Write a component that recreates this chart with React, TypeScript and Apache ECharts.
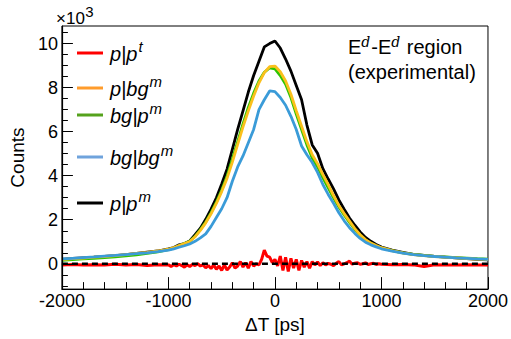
import React, { useEffect, useRef } from "react";
import * as echarts from "echarts";

// ---------- data (counts in units of 10^3) ----------
const deltaT = [
  -2000, -1900, -1800, -1700, -1600, -1500, -1400, -1300, -1200, -1100,
  -1000, -950, -900, -850, -800, -750, -700, -650, -600, -550, -500, -450, -400, -350, -300, -250, -200, -150, -100, -50,
  0, 50, 100, 150, 200, 250, 300, 350, 400, 450, 500, 550, 600, 650, 700, 750, 800, 850, 900, 950, 1000,
  1100, 1200, 1300, 1400, 1500, 1600, 1700, 1800, 1900, 2000,
];

// p|p^m (black)
const ppM = [
  0.2, 0.24, 0.27, 0.3, 0.34, 0.37, 0.42, 0.47, 0.53, 0.58,
  0.68, 0.74, 0.86, 0.92, 1.04, 1.32, 1.62, 2.02, 2.48, 3.0, 3.62, 4.3, 5.2, 6.1, 6.95, 7.8, 8.55, 9.2, 9.85, 10.0,
  10.12, 9.8, 9.3, 8.75, 8.1, 7.45, 6.3, 5.4, 5.02, 4.32, 3.85, 3.4, 2.9, 2.48, 2.08, 1.75, 1.45, 1.2, 1.02, 0.88, 0.76,
  0.62, 0.52, 0.43, 0.38, 0.34, 0.3, 0.27, 0.23, 0.2, 0.18,
];

// p|bg^m (orange / yellow)
const pbgM = [
  0.19, 0.23, 0.26, 0.3, 0.33, 0.37, 0.42, 0.47, 0.52, 0.58,
  0.66, 0.73, 0.83, 0.92, 1.01, 1.23, 1.52, 1.86, 2.27, 2.74, 3.28, 3.88, 4.62, 5.42, 6.22, 6.95, 7.62, 8.22, 8.68, 8.95,
  8.98, 8.72, 8.3, 7.7, 6.95, 6.25, 5.55, 4.95, 4.55, 4.05, 3.6, 3.1, 2.65, 2.28, 1.94, 1.6, 1.32, 1.1, 0.94, 0.83, 0.73,
  0.6, 0.5, 0.42, 0.37, 0.33, 0.3, 0.27, 0.24, 0.21, 0.19,
];

// bg|p^m (green)
const bgpM = [
  0.16, 0.19, 0.22, 0.25, 0.28, 0.31, 0.36, 0.41, 0.47, 0.54,
  0.64, 0.71, 0.82, 0.92, 1.02, 1.25, 1.55, 1.9, 2.32, 2.8, 3.35, 3.98, 4.75, 5.55, 6.35, 7.1, 7.75, 8.3, 8.7, 8.9,
  8.85, 8.55, 8.15, 7.55, 6.8, 6.1, 5.4, 4.8, 4.4, 3.9, 3.45, 3.0, 2.58, 2.22, 1.88, 1.56, 1.3, 1.08, 0.93, 0.82, 0.72,
  0.6, 0.5, 0.43, 0.38, 0.34, 0.31, 0.28, 0.26, 0.23, 0.21,
];

// bg|bg^m (blue)
const bgbgM = [
  0.22, 0.25, 0.28, 0.31, 0.35, 0.38, 0.42, 0.46, 0.5, 0.55,
  0.62, 0.68, 0.75, 0.82, 0.9, 1.02, 1.18, 1.36, 1.7, 2.1, 2.5, 3.0, 3.75, 4.4, 4.9, 5.5, 6.1, 7.0, 7.45, 7.85,
  7.82, 7.55, 7.2, 6.7, 6.1, 5.35, 4.95, 4.6, 4.15, 3.6, 3.15, 2.75, 2.32, 1.95, 1.64, 1.38, 1.15, 0.98, 0.86, 0.77, 0.68,
  0.57, 0.48, 0.42, 0.37, 0.33, 0.3, 0.27, 0.25, 0.22, 0.2,
];

// p|p^t (red) – finer binning
const deltaTRed = [
  -2000, -1900, -1800, -1700, -1600, -1500, -1400, -1300, -1200, -1100,
  -1000, -975, -950, -925, -900, -875, -850, -825, -800, -775, -750, -725, -700, -675, -650, -625, -600, -575, -550, -525,
  -500, -475, -450, -425, -400, -375, -350, -325, -300, -275, -250, -225, -200, -175, -150, -125, -100, -75, -50, -25,
  0, 25, 50, 75, 100, 125, 150, 175, 200, 225, 250, 275, 300, 325, 350, 375, 400, 425, 450, 475,
  500, 525, 550, 575, 600, 625, 650, 675, 700, 725, 750, 775, 800, 825, 850, 875, 900, 925, 950, 975, 1000,
  1100, 1200, 1300, 1400, 1500, 1600, 1700, 1800, 1900, 2000,
];
const ppT = [
  -0.05, -0.03, -0.06, -0.04, -0.05, -0.02, -0.06, -0.03, -0.08, -0.04,
  -0.05, -0.12, -0.04, -0.1, -0.02, -0.08, -0.15, -0.05, -0.12, -0.03, -0.08, 0.0, -0.1, -0.05, -0.18, -0.08, -0.22, -0.05, -0.25, -0.1,
  -0.3, -0.05, -0.28, -0.15, 0.05, -0.2, -0.1, 0.1, -0.15, 0.05, -0.2, 0.1, -0.1, 0.0, -0.05, 0.2, 0.62, 0.35, 0.3, 0.05,
  0.2, -0.1, 0.35, -0.3, 0.3, -0.35, 0.25, -0.2, 0.2, -0.3, 0.15, -0.15, 0.1, -0.2, 0.1, -0.05, 0.08, -0.08, 0.05, -0.05,
  0.02, -0.02, -0.08, 0.02, 0.1, -0.05, 0.0, 0.05, 0.12, -0.02, 0.03, 0.05, -0.02, 0.0, 0.04, -0.03, 0.0, 0.02, -0.03, 0.0, -0.02,
  -0.04, -0.03, -0.05, -0.12, -0.04, -0.05, -0.06, -0.04, -0.05, -0.05,
];

const zeroLineX = [-2000, 2000];
const zeroLineY = [0, 0];

const xRange = [-2000, 2000];
const yRange = [-1.15, 10.8];
const yMajorTicks = [0, 2, 4, 6, 8, 10];
const yMinorTicks = [-1, -0.5, 0.5, 1, 1.5, 2.5, 3, 3.5, 4.5, 5, 5.5, 6.5, 7, 7.5, 8.5, 9, 9.5, 10.5];

const legendBase = ["p|p", "p|bg", "bg|p", "bg|bg", "p|p"];
const legendSup = ["t", "m", "m", "m", "m"];

const FONT = '"Liberation Sans", Arial, Helvetica, sans-serif';

function measure(text: string, font: string): number {
  const c = document.createElement("canvas").getContext("2d");
  if (!c) return text.length * 10;
  c.font = font;
  return c.measureText(text).width;
}

export default function App() {
  const ref = useRef<HTMLDivElement>(null);

  useEffect(() => {
    if (!ref.current) return;
    const chart = echarts.init(ref.current, undefined, { renderer: "svg" });

    const pairs = (xs: number[], ys: number[]) => xs.map((x, i) => [x, ys[i]]);

    const legendColors = ["#ff0000", "#ff9c2c", "#55a21d", "#6fa3dc", "#000000"];
    const legendRowsY = [53, 88, 115, 157, 203];

    const graphic: any[] = [];
    legendBase.forEach((base, i) => {
      const L = legendRowsY[i];
      graphic.push({
        type: "line",
        shape: { x1: 77, y1: L, x2: 103, y2: L },
        style: { stroke: legendColors[i], lineWidth: 3 },
      });
      const bf = `italic 20px ${FONT}`;
      graphic.push({
        type: "text",
        x: 110,
        y: L + 1,
        style: { text: base, font: bf, fill: "#000", align: "left", verticalAlign: "middle", textAlign: "left", textVerticalAlign: "middle" },
      });
      const w = measure(base, bf);
      graphic.push({
        type: "text",
        x: 110 + w + 1,
        y: L - 7,
        style: { text: legendSup[i], font: `italic 15px ${FONT}`, fill: "#000", align: "left", verticalAlign: "middle", textAlign: "left", textVerticalAlign: "middle" },
      });
    });

    // x10^3
    const f17 = `17px ${FONT}`;
    const w10 = measure("\u00d710", f17);
    graphic.push({
      type: "text", x: 56, y: 18,
      style: { text: "\u00d710", font: f17, fill: "#000", align: "left", verticalAlign: "middle", textAlign: "left", textVerticalAlign: "middle" },
    });
    graphic.push({
      type: "text", x: 56 + w10 + 0.5, y: 11,
      style: { text: "3", font: `15px ${FONT}`, fill: "#000", align: "left", verticalAlign: "middle", textAlign: "left", textVerticalAlign: "middle" },
    });

    // E^d-E^d region / (experimental)
    const f20 = `20px ${FONT}`;
    const fd = `italic 14px "DejaVu Serif", "Liberation Serif", serif`;
    let cx = 348;
    const pieces: [string, boolean][] = [["E", false], ["d", true], ["-E", false], ["d", true], [" region", false]];
    pieces.forEach(([t, sup]) => {
      const font = sup ? fd : f20;
      graphic.push({
        type: "text", x: cx, y: sup ? 42 : 47,
        style: { text: t, font, fill: "#000", align: "left", verticalAlign: "middle", textAlign: "left", textVerticalAlign: "middle" },
      });
      cx += measure(t, font) + (sup ? 1 : 0);
    });
    graphic.push({
      type: "text", x: 348, y: 72,
      style: { text: "(experimental)", font: f20, fill: "#000", align: "left", verticalAlign: "middle", textAlign: "left", textVerticalAlign: "middle" },
    });

    const lineSeries = (name: string, data: any[], color: string, width: number, extra: any = {}) => ({
      name,
      type: "line",
      data,
      showSymbol: false,
      symbol: "none",
      xAxisIndex: 0,
      yAxisIndex: 0,
      lineStyle: { color, width, ...extra },
      itemStyle: { color },
      silent: true,
      z: 2,
    });

    chart.setOption({
      animation: false,
      backgroundColor: "#ffffff",
      textStyle: { fontFamily: FONT },
      grid: { left: 57, right: 20, top: 26, bottom: 43, show: true, borderColor: "#000", borderWidth: 1, backgroundColor: "transparent" },
      xAxis: {
        type: "value",
        min: xRange[0],
        max: xRange[1],
        interval: 1000,
        name: "\u0394T [ps]",
        nameLocation: "middle",
        nameGap: 19,
        nameTextStyle: { fontSize: 19, color: "#000", fontFamily: FONT },
        axisLine: { show: true, onZero: false, lineStyle: { color: "#000", width: 1.2 } },
        axisTick: { show: true, inside: true, length: 12, lineStyle: { color: "#000", width: 1 } },
        minorTick: { show: true, splitNumber: 5, length: 7, lineStyle: { color: "#000", width: 1 } },
        axisLabel: { fontSize: 18, color: "#000", margin: 3, fontFamily: FONT, formatter: (v: number) => String(v) },
        splitLine: { show: false },
        z: 5,
      },
      yAxis: [
        {
          type: "value",
          min: yRange[0],
          max: yRange[1],
          name: "Counts",
          nameLocation: "middle",
          nameGap: 29,
          nameRotate: 90,
          nameTextStyle: { fontSize: 19, color: "#000", fontFamily: FONT },
          axisLine: { show: true, onZero: false, lineStyle: { color: "#000", width: 1.2 } },
          axisTick: { show: true, inside: true, length: 11, customValues: yMajorTicks, lineStyle: { color: "#000", width: 1 } },
          axisLabel: { fontSize: 18, color: "#000", margin: 4, fontFamily: FONT, customValues: yMajorTicks, formatter: (v: number) => String(v) },
          splitLine: { show: false },
          z: 5,
        },
        {
          type: "value",
          min: yRange[0],
          max: yRange[1],
          position: "left",
          axisLine: { show: false, onZero: false },
          axisTick: { show: true, inside: true, length: 6, customValues: yMinorTicks, lineStyle: { color: "#000", width: 1 } },
          axisLabel: { show: false, customValues: yMinorTicks },
          splitLine: { show: false },
          z: 5,
        },
      ],
      series: [
        lineSeries("p|p^m", pairs(deltaT, ppM), "#000000", 2.8),
        lineSeries("bg|p^m", pairs(deltaT, bgpM), "#2fc400", 2.8),
        lineSeries("p|bg^m", pairs(deltaT, pbgM), "#fbc01c", 2.8),
        lineSeries("bg|bg^m", pairs(deltaT, bgbgM), "#3a9bd8", 2.8),
        lineSeries("p|p^t", pairs(deltaTRed, ppT), "#ff0000", 3),
        lineSeries("zero", pairs(zeroLineX, zeroLineY), "#000000", 2.5, { type: [6, 4] }),
      ],
      graphic,
    });

    return () => chart.dispose();
  }, []);

  return (
    <div
      ref={ref}
      style={{ position: "absolute", left: 0, top: 0, width: 511, height: 339, background: "#fff" }}
    />
  );
}
